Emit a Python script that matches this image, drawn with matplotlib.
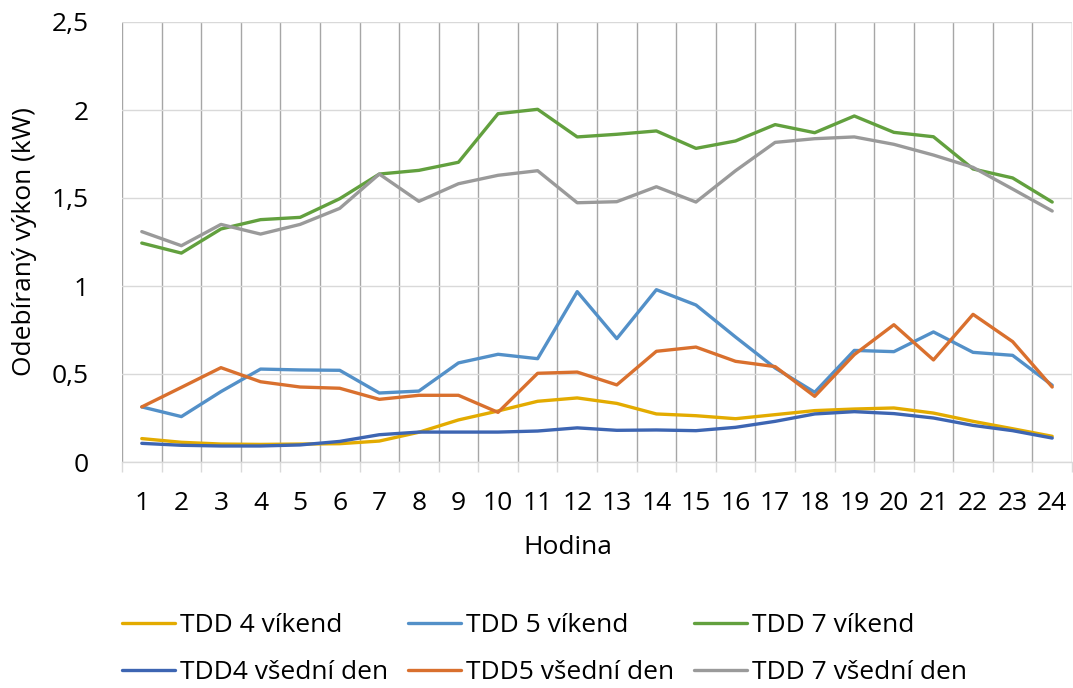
import matplotlib
matplotlib.use("Agg")
import matplotlib.pyplot as plt
from matplotlib.ticker import FixedLocator, FuncFormatter

hours = list(range(1, 25))

tdd4_vikend = [0.133, 0.112, 0.102, 0.100, 0.102, 0.104, 0.119, 0.169, 0.239, 0.290, 0.345, 0.364,
               0.333, 0.273, 0.263, 0.246, 0.269, 0.292, 0.301, 0.307, 0.278, 0.231, 0.189, 0.146]
tdd5_vikend = [0.313, 0.258, 0.400, 0.528, 0.523, 0.521, 0.392, 0.403, 0.563, 0.612, 0.587, 0.968,
               0.701, 0.979, 0.892, 0.710, 0.534, 0.396, 0.634, 0.627, 0.739, 0.623, 0.606, 0.436]
tdd7_vikend = [1.244, 1.187, 1.324, 1.377, 1.390, 1.496, 1.636, 1.657, 1.703, 1.979, 2.004, 1.847,
               1.862, 1.881, 1.782, 1.824, 1.917, 1.871, 1.966, 1.873, 1.848, 1.665, 1.614, 1.477]
tdd4_vsedni = [0.106, 0.095, 0.091, 0.091, 0.097, 0.117, 0.155, 0.170, 0.170, 0.170, 0.176, 0.194,
               0.180, 0.182, 0.178, 0.197, 0.231, 0.273, 0.286, 0.275, 0.250, 0.208, 0.178, 0.136]
tdd5_vsedni = [0.313, 0.424, 0.536, 0.456, 0.426, 0.419, 0.356, 0.379, 0.379, 0.282, 0.504, 0.511,
               0.438, 0.629, 0.653, 0.572, 0.542, 0.373, 0.610, 0.780, 0.580, 0.839, 0.684, 0.426]
tdd7_vsedni = [1.309, 1.229, 1.350, 1.295, 1.350, 1.441, 1.636, 1.481, 1.581, 1.629, 1.655, 1.473,
               1.479, 1.564, 1.477, 1.655, 1.816, 1.837, 1.847, 1.805, 1.744, 1.674, 1.551, 1.426]

series = [
    ("TDD 4 víkend", tdd4_vikend, "#E3AB00"),
    ("TDD 5 víkend", tdd5_vikend, "#5390C8"),
    ("TDD 7 víkend", tdd7_vikend, "#62A03E"),
    ("TDD4 všední den", tdd4_vsedni, "#3D65B2"),
    ("TDD5 všední den", tdd5_vsedni, "#D9702E"),
    ("TDD 7 všední den", tdd7_vsedni, "#9A9A9A"),
]

plt.rcParams['font.family'] = ['Open Sans', 'DejaVu Sans']
FS = 19

fig = plt.figure(figsize=(10.73, 6.88), dpi=100)
W, H = 1073, 688
ax = fig.add_axes([122 / W, 1 - 462 / H, 950 / W, 440 / H])

lines = {}
for name, vals, col in series:
    ln, = ax.plot(hours, vals, color=col, lw=2.4, solid_capstyle='round', label=name, zorder=3)
    lines[name] = ln

ax.set_xlim(0.5, 24.5)
ax.set_ylim(0, 2.5)

ax.xaxis.set_major_locator(FixedLocator(hours))
ax.xaxis.set_minor_locator(FixedLocator([h + 0.5 for h in [0] + hours]))
ax.yaxis.set_major_locator(FixedLocator([0, 0.5, 1, 1.5, 2, 2.5]))
ax.yaxis.set_major_formatter(FuncFormatter(lambda v, p: ("%g" % v).replace(".", ",")))

ax.tick_params(axis='x', which='major', length=0, pad=21, labelsize=FS)
ax.tick_params(axis='x', which='minor', length=7, width=1, color='#D9D9D9')
ax.tick_params(axis='y', which='major', length=0, pad=24, labelsize=FS)

ax.grid(axis='x', which='minor', color='#A6A6A6', lw=1, zorder=1)
ax.grid(axis='y', which='major', color='#D9D9D9', lw=1, zorder=1)
ax.grid(axis='x', which='major', visible=False)

for s in ['top', 'right', 'left']:
    ax.spines[s].set_visible(False)
ax.spines['bottom'].set_color('#D9D9D9')
ax.spines['bottom'].set_linewidth(1)

ax.set_xlabel("Hodina", fontsize=FS)
ax.xaxis.set_label_coords((568 - 122) / 950, (462 - 548) / 440)
ax.xaxis.label.set_va('center')
ax.set_ylabel("Odebíraný výkon (kW)", fontsize=FS)
ax.yaxis.set_label_coords((25 - 122) / 950, 0.5)
ax.yaxis.label.set_va('center')

order = ["TDD 4 víkend", "TDD4 všední den", "TDD 5 víkend", "TDD5 všední den",
         "TDD 7 víkend", "TDD 7 všední den"]
leg = fig.legend([lines[n] for n in order], order, ncol=3, loc='upper left',
                 bbox_to_anchor=(122 / W, 1 - 613 / H), frameon=False, fontsize=FS,
                 handlelength=2.0, handletextpad=0.2, columnspacing=0.75, labelspacing=0.85,
                 borderaxespad=0, borderpad=0)

fig.savefig("out.png", dpi=100)
